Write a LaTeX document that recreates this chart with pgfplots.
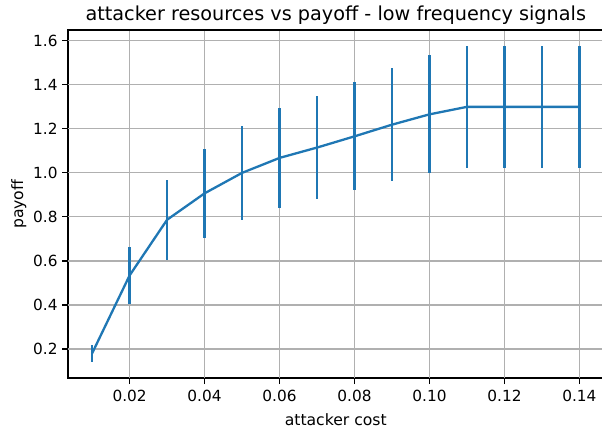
\documentclass[border=0pt]{standalone}
\usepackage{fontspec}
\setmainfont{DejaVu Sans}
\usepackage{pgfplots}
\usepackage{pgfplotstable}
\pgfplotsset{compat=1.18}
\definecolor{mplblue}{HTML}{1F77B4}
\definecolor{mplgrid}{HTML}{B0B0B0}
\pgfplotstableread{
x y err
0.01 0.180 0.040
0.02 0.534 0.128
0.03 0.787 0.182
0.04 0.907 0.201
0.05 1.000 0.215
0.06 1.068 0.226
0.07 1.115 0.235
0.08 1.166 0.246
0.09 1.219 0.258
0.10 1.266 0.268
0.11 1.300 0.276
0.12 1.300 0.276
0.13 1.300 0.276
0.14 1.300 0.276
}\datatable
\begin{document}
\begin{tikzpicture}
\begin{axis}[
  scale only axis,
  width=535pt, height=347.5pt,
  xmin=0.0035, xmax=0.1465,
  ymin=0.066, ymax=1.648,
  xtick={0.02,0.04,0.06,0.08,0.10,0.12,0.14},
  ytick={0.2,0.4,0.6,0.8,1.0,1.2,1.4,1.6},
  xtick pos=bottom, ytick pos=left,
  xticklabel style={/pgf/number format/fixed,/pgf/number format/fixed zerofill,/pgf/number format/precision=2, yshift=-3pt},
  yticklabel style={/pgf/number format/fixed,/pgf/number format/fixed zerofill,/pgf/number format/precision=1, xshift=-1pt},
  /pgf/number format/assume math mode=true,
  scaled x ticks=false,
  tick align=outside,
  major tick length=5.6pt,
  tick style={black, line width=1.2pt},
  axis line style={black, line width=1.2pt},
  axis background/.style={draw=black, line width=2pt},
  grid=major,
  grid style={mplgrid, line width=1.2pt},
  ticklabel style={font=\fontsize{15.3}{18}\selectfont},
  xlabel={attacker cost},
  ylabel={payoff},
  label style={font=\fontsize{15.6}{18}\selectfont},
  xlabel style={yshift=-5pt},
  ylabel style={yshift=0pt},
  title={attacker resources vs payoff - low frequency signals},
  title style={font=\fontsize{19.2}{22}\selectfont, yshift=-4pt},
]
\addplot[mplblue, line width=2.3pt, line join=round,
  error bars/.cd, y dir=both, y explicit,
  error bar style={mplblue, line width=2.3pt},
  error mark=none]
  table[x=x, y=y, y error=err] {\datatable};
\end{axis}
\pgfresetboundingbox
\useasboundingbox ([shift={(-67.6pt,-52.3pt)}]current axis.south west) rectangle ([shift={(-1.8pt,30.2pt)}]current axis.north east);
\end{tikzpicture}
\end{document}
